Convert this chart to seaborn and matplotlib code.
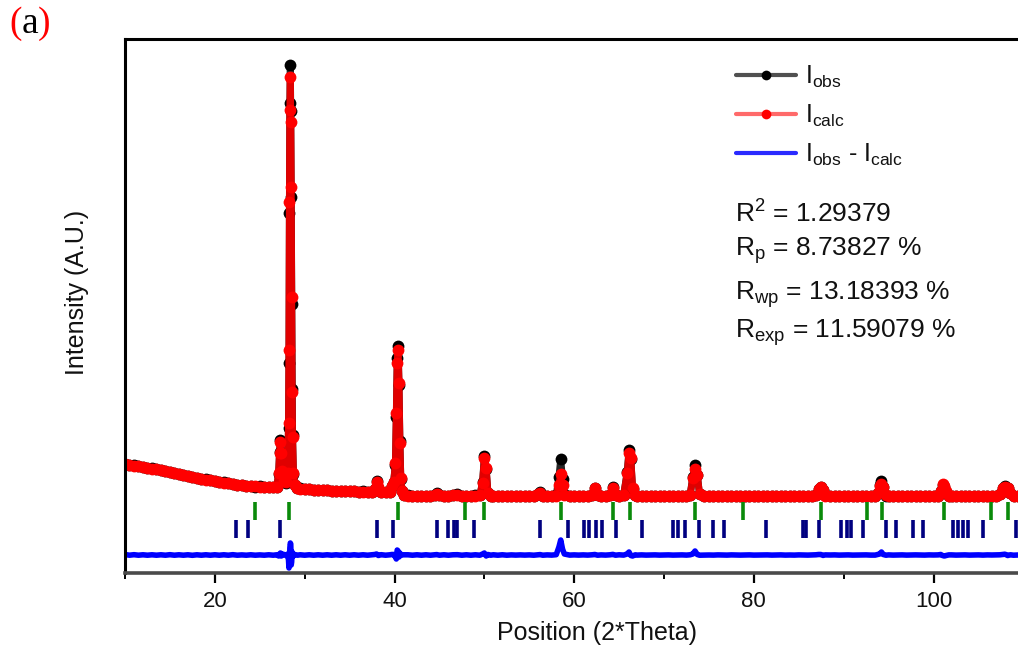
import matplotlib
matplotlib.use("Agg")
import numpy as np
import pandas as pd
import seaborn as sns
import matplotlib.pyplot as plt
from matplotlib.lines import Line2D
from matplotlib.ticker import FixedLocator

# ---- Rietveld refinement data (2-theta in degrees, intensity in counts) ----
two_theta = [
    10.0, 10.5, 11.0, 11.5, 12.0, 12.5, 13.0, 13.5, 14.0, 14.5,
    15.0, 15.5, 16.0, 16.5, 17.0, 17.5, 18.0, 18.5, 19.0, 19.5,
    20.0, 20.5, 21.0, 21.5, 22.0, 22.5, 23.0, 23.5, 24.0, 24.5,
    25.0, 25.5, 26.0, 26.5, 26.9, 27.1, 27.2, 27.3, 27.4, 27.5,
    27.7, 27.9, 28.1, 28.2, 28.25, 28.3, 28.35, 28.4, 28.45, 28.5,
    28.55, 28.6, 28.65, 28.75, 28.9, 29.2, 29.5, 30.0, 30.5, 31.0,
    31.5, 32.0, 32.5, 33.0, 33.5, 34.0, 34.5, 35.0, 35.5, 36.0,
    36.5, 37.0, 37.5, 37.8, 38.0, 38.2, 38.5, 39.0, 39.5, 39.7,
    39.9, 40.1, 40.2, 40.3, 40.4, 40.5, 40.6, 40.7, 40.85, 41.0,
    41.5, 42.0, 42.5, 43.0, 43.5, 44.0, 44.5, 44.7, 45.0, 45.5,
    46.0, 46.5, 47.0, 47.5, 48.0, 48.5, 49.0, 49.5, 49.8, 50.0,
    50.2, 50.4, 50.7, 51.0, 51.5, 52.0, 52.5, 53.0, 53.5, 54.0,
    54.5, 55.0, 55.5, 56.0, 56.2, 56.5, 57.0, 57.5, 58.0, 58.3,
    58.5, 58.7, 58.9, 59.5, 60.0, 60.5, 61.0, 61.5, 62.0, 62.3,
    62.6, 63.0, 63.5, 64.0, 64.3, 64.6, 65.0, 65.5, 65.9, 66.1,
    66.3, 66.5, 66.8, 67.0, 67.5, 68.0, 68.5, 69.0, 69.5, 70.0,
    70.5, 71.0, 71.5, 72.0, 72.5, 72.9, 73.2, 73.45, 73.7, 73.95,
    74.5, 75.0, 75.5, 76.0, 76.5, 77.0, 77.5, 78.0, 78.5, 79.0,
    79.5, 80.0, 80.5, 81.0, 81.5, 82.0, 82.5, 83.0, 83.5, 84.0,
    84.5, 85.0, 85.5, 86.0, 86.5, 86.9, 87.2, 87.45, 87.7, 87.95,
    88.5, 89.0, 89.5, 90.0, 90.5, 91.0, 91.5, 92.0, 92.5, 93.0,
    93.5, 93.8, 94.0, 94.2, 94.4, 94.7, 95.0, 95.5, 96.0, 96.5,
    97.0, 97.5, 98.0, 98.5, 99.0, 99.5, 100.0, 100.5, 100.8, 101.0,
    101.2, 101.4, 101.7, 102.0, 102.5, 103.0, 103.5, 104.0, 104.5, 105.0,
    105.5, 106.0, 106.5, 107.0, 107.4, 107.7, 107.95, 108.25, 108.55, 108.9,
    109.4,
]

i_calc = [
    1090, 1082, 1075, 1068, 1060, 1052, 1045, 1038, 1030, 1020,
    1010, 1000, 990, 980, 970, 960, 950, 942, 935, 928,
    920, 912, 905, 898, 890, 885, 880, 875, 870, 867,
    865, 862, 860, 859, 860, 1000, 1200, 1310, 1200, 1020,
    920, 910, 1000, 1500, 2230, 3710, 4630, 4960, 4510, 3860,
    2760, 1810, 1360, 1000, 880, 850, 845, 840, 836, 833,
    830, 828, 826, 824, 822, 820, 819, 818, 816, 815,
    814, 812, 812, 840, 910, 860, 812, 808, 812, 870,
    910, 1100, 1600, 2100, 2230, 1900, 1300, 950, 820, 780,
    775, 774, 773, 772, 772, 772, 780, 792, 780, 772,
    772, 776, 785, 774, 772, 772, 775, 780, 900, 1150,
    1050, 800, 774, 772, 771, 770, 770, 770, 770, 770,
    770, 770, 772, 790, 802, 775, 770, 771, 775, 880,
    990, 880, 780, 771, 770, 770, 772, 775, 780, 850,
    778, 772, 772, 780, 850, 778, 772, 780, 1000, 1200,
    1150, 850, 776, 772, 770, 770, 770, 770, 770, 770,
    770, 770, 770, 770, 770, 780, 950, 1040, 980, 790,
    772, 770, 770, 770, 770, 770, 770, 770, 770, 770,
    770, 770, 770, 770, 770, 770, 770, 770, 770, 770,
    770, 770, 770, 770, 770, 780, 840, 860, 830, 775,
    770, 770, 770, 770, 770, 770, 770, 770, 770, 770,
    772, 800, 870, 890, 860, 776, 770, 770, 770, 770,
    770, 770, 770, 770, 770, 770, 770, 772, 820, 890,
    870, 820, 774, 770, 770, 770, 770, 770, 770, 770,
    770, 770, 770, 772, 790, 850, 860, 855, 800, 772,
    770,
]

i_obs = [
    1095, 1080, 1078, 1066, 1062, 1050, 1047, 1036, 1032, 1018,
    1013, 998, 992, 978, 972, 957, 952, 940, 937, 926,
    922, 910, 907, 896, 893, 883, 881, 873, 872, 865,
    866, 860, 862, 857, 862, 990, 1210, 1330, 1190, 1030,
    925, 905, 1010, 1450, 2100, 3600, 4700, 5080, 4620, 3760,
    2690, 1840, 1380, 990, 885, 848, 847, 838, 838, 831,
    832, 826, 828, 822, 824, 818, 821, 816, 818, 813,
    816, 810, 814, 845, 920, 855, 815, 806, 814, 875,
    915, 1080, 1560, 2150, 2270, 1880, 1320, 945, 822, 782,
    777, 772, 775, 770, 774, 770, 782, 796, 778, 774,
    770, 778, 788, 772, 774, 770, 777, 778, 910, 1170,
    1040, 805, 772, 774, 769, 772, 768, 771, 769, 771,
    769, 771, 770, 793, 806, 773, 771, 770, 778, 960,
    1140, 940, 790, 770, 771, 769, 773, 774, 782, 855,
    776, 773, 771, 782, 856, 776, 774, 779, 1010, 1230,
    1145, 840, 778, 771, 771, 769, 770, 771, 769, 770,
    771, 769, 770, 771, 769, 782, 960, 1080, 985, 788,
    771, 770, 769, 771, 770, 769, 771, 770, 769, 770,
    771, 769, 770, 770, 771, 769, 770, 771, 769, 770,
    769, 771, 770, 769, 771, 782, 845, 865, 826, 776,
    770, 771, 769, 770, 771, 769, 770, 770, 771, 769,
    771, 805, 880, 920, 865, 774, 771, 769, 770, 771,
    769, 770, 771, 770, 769, 771, 770, 773, 825, 885,
    860, 815, 775, 771, 769, 770, 771, 769, 770, 771,
    769, 771, 770, 773, 792, 855, 868, 850, 802, 770,
    770,
]

# Bragg reflection positions of the two refined phases
bragg_phase1 = [24.5, 28.3, 40.4, 47.9, 50.0, 58.5, 64.3, 66.2, 73.5, 78.8,
                87.5, 92.6, 94.3, 101.2, 106.4, 108.3]
bragg_phase2 = [22.4, 23.7, 27.3, 38.1, 39.8, 44.7, 46.0, 46.6, 47.0, 48.9,
                56.2, 59.3, 61.1, 61.7, 62.4, 63.1, 64.6, 67.6, 71.0, 71.6,
                72.3, 73.9, 75.5, 76.7, 81.4, 85.5, 85.8, 87.3, 89.7, 90.4,
                90.8, 92.1, 94.7, 95.8, 97.7, 98.8, 102.2, 102.7, 103.3, 103.8,
                105.5, 109.2]

# Agreement indices of the refinement
fit_labels = ["R$^\\mathregular{2}$ = 1.29379",
              "R$_\\mathregular{p}$ = 8.73827 %",
              "R$_\\mathregular{wp}$ = 13.18393 %",
              "R$_\\mathregular{exp}$ = 11.59079 %"]
legend_labels = ["I$_\\mathregular{obs}$", "I$_\\mathregular{calc}$",
                 "I$_\\mathregular{obs}$ - I$_\\mathregular{calc}$"]

x_ticks = [20, 40, 60, 80, 100]
x_minor_ticks = [10, 30, 50, 70, 90]

# vertical placement of the difference curve and reflection markers
DIFF_OFFSET = 180
PHASE1_LEVEL = 620
PHASE2_LEVEL = 440

# ---- figure ----
sns.set_style("white")
plt.rcParams["font.family"] = ["Liberation Sans", "DejaVu Sans"]
plt.rcParams["mathtext.default"] = "regular"

W, H = 1018, 648
fig = plt.figure(figsize=(W / 100, H / 100), dpi=100)
ax = fig.add_axes([125 / W, 75 / H, 893 / W, 534 / H])

profile = pd.DataFrame({"two_theta": two_theta, "obs": i_obs, "calc": i_calc})
profile["diff"] = profile["obs"] - profile["calc"] + DIFF_OFFSET

sns.lineplot(data=profile, x="two_theta", y="obs", ax=ax, sort=False,
             estimator=None, color="#262626", linewidth=5,
             marker="o", markersize=8.5, markerfacecolor="black",
             markeredgecolor="black", markeredgewidth=0, legend=False)
sns.lineplot(data=profile, x="two_theta", y="calc", ax=ax, sort=False,
             estimator=None, color="#e00000", linewidth=5,
             marker="o", markersize=8.5, markerfacecolor="#ff0000",
             markeredgecolor="#ff0000", markeredgewidth=0, legend=False)
sns.lineplot(data=profile, x="two_theta", y="diff", ax=ax, sort=False,
             estimator=None, color="#0000ff", linewidth=4, legend=False)

sns.scatterplot(x=bragg_phase1, y=np.full(len(bragg_phase1), PHASE1_LEVEL),
                ax=ax, marker="|", s=170, linewidth=2.6, color="#0a8a0a",
                legend=False, zorder=4)
sns.scatterplot(x=bragg_phase2, y=np.full(len(bragg_phase2), PHASE2_LEVEL),
                ax=ax, marker="|", s=150, linewidth=2.6, color="#000080",
                legend=False, zorder=4)

ax.set_xlim(10, 109.4)
ax.set_ylim(0, 5340)
ax.set_yticks([])
ax.xaxis.set_major_locator(FixedLocator(x_ticks))
ax.xaxis.set_minor_locator(FixedLocator(x_minor_ticks))
ax.tick_params(axis="x", which="major", direction="out", length=7, width=1.6,
               color="black", labelsize=16, pad=6, bottom=True,
               labelcolor="#111111")
ax.tick_params(axis="x", which="minor", direction="out", length=4, width=1.4,
               color="black", bottom=True)

for side in ("left", "top"):
    ax.spines[side].set_color("black")
    ax.spines[side].set_linewidth(2.2)
ax.spines["bottom"].set_color("#4a4a4a")
ax.spines["bottom"].set_linewidth(2.6)
ax.spines["right"].set_visible(False)

ax.set_xlabel("Position (2*Theta)", fontsize=18, color="#111111")
ax.set_ylabel("Intensity (A.U.)", fontsize=18, color="#111111")
ax.xaxis.set_label_coords(0.529, -0.09)
ax.yaxis.set_label_coords(-0.040, 0.526)

# legend keys: thinner, lighter pen with a dot in the middle
legend_handles = [
    Line2D([], [], color="#505050", linewidth=3, marker="o", markersize=7,
           markerfacecolor="black", markeredgewidth=0),
    Line2D([], [], color="#ff6a6a", linewidth=3, marker="o", markersize=7,
           markerfacecolor="#ff0000", markeredgewidth=0),
    Line2D([], [], color="#2a2aff", linewidth=3),
]
ax.legend(legend_handles, legend_labels,
          loc="upper left", bbox_to_anchor=(736 / W, 1 - 64 / H),
          bbox_transform=fig.transFigure, frameon=False, fontsize=18,
          handlelength=2.4, handletextpad=0.35, labelspacing=0.5,
          borderpad=0, borderaxespad=0, labelcolor="#111111")

# agreement indices
for label, y_px in zip(fit_labels, [223, 256, 300, 338]):
    fig.text(735 / W, 1 - y_px / H, label, fontsize=19, va="baseline",
             ha="left", color="#111111")

# panel tag: red brackets around a black letter
t1 = fig.text(9 / W, 1 - 33 / H, "(", color="red", fontsize=27,
              family="Liberation Serif", va="baseline")
a = ax.annotate("a", xy=(1, 0), xycoords=t1, xytext=(0, 0),
                textcoords="offset points", va="bottom", ha="left",
                fontsize=27, family="Liberation Serif", color="black",
                annotation_clip=False)
ax.annotate(")", xy=(1, 0), xycoords=a, xytext=(0, 0),
            textcoords="offset points", va="bottom", ha="left",
            fontsize=27, family="Liberation Serif", color="red",
            annotation_clip=False)

fig.savefig("out.png", dpi=100)
